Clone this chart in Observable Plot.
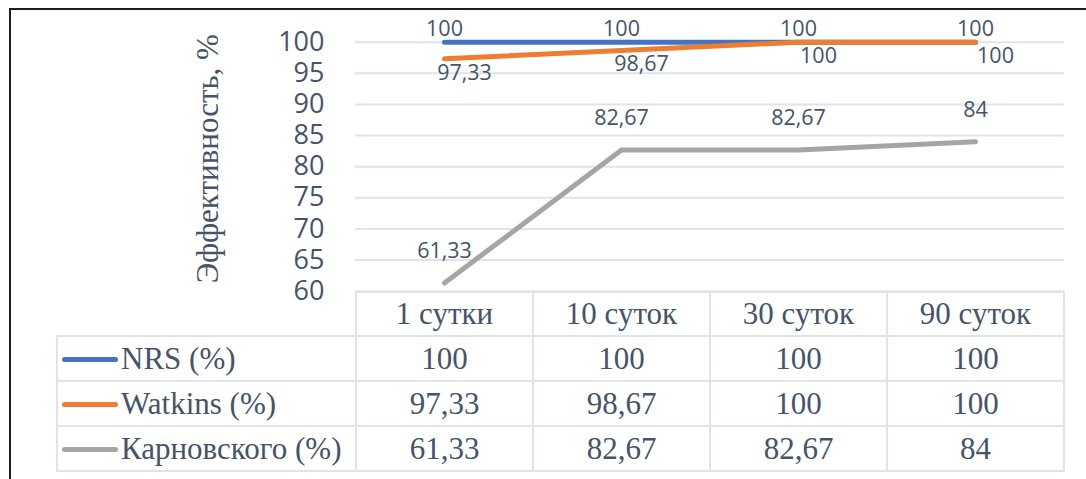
<!DOCTYPE html>
<html>
<head>
<meta charset="utf-8">
<script src="https://cdn.jsdelivr.net/npm/d3@7"></script>
<script src="https://cdn.jsdelivr.net/npm/@observablehq/plot@0.6"></script>
<style>
  html, body { margin: 0; padding: 0; background: #fff; }
  #wrap { position: relative; width: 1086px; height: 479px; overflow: hidden; background: #fff; }
  #frame { position: absolute; left: 9px; top: 8px; width: 1090px; height: 480px;
           border-top: 2px solid #1e1e1e; border-left: 2px solid #1e1e1e; pointer-events: none; }
  #chart { position: absolute; left: 0; top: 0; }
  table.dt { position: absolute; border-collapse: collapse; table-layout: fixed;
             font-family: "Liberation Serif", "Times New Roman", serif; font-size: 31px; color: #44546a; }
  table.dt td { border: 2px solid #dfe3ea; text-align: center; vertical-align: middle; padding: 0; white-space: nowrap; }
  table.dt td.blank { border-top: none; border-left: none; border-bottom: 2px solid #dfe3ea; }
  table.dt td.lab { text-align: left; }
  .sw { display: inline-block; width: 56px; height: 5px; border-radius: 3px; margin-left: 4px; margin-right: 3px; vertical-align: middle; position: relative; top: -2px; }
</style>
</head>
<body>
<div id="wrap">
  <div id="chart"></div>
  <div id="frame"></div>
</div>
<script>
// ---- data ----
const categories = ["1 сутки", "10 суток", "30 суток", "90 суток"];
const seriesNames = ["NRS (%)", "Watkins (%)", "Карновского (%)"];
const nrsValues = [100, 100, 100, 100];
const watkinsValues = [97.33, 98.67, 100, 100];
const karnovskyValues = [61.33, 82.67, 82.67, 84];
const yTicks = [60, 65, 70, 75, 80, 85, 90, 95, 100];
const yTitle = "Эффективность, %";
const seriesColors = ["#4472c4", "#ed7d31", "#a5a5a5"];

const allValues = [nrsValues, watkinsValues, karnovskyValues];
const rows = allValues.flatMap((vals, s) => vals.map((v, i) => ({series: seriesNames[s], cat: categories[i], value: v, si: s})));
const fmt = v => String(v).replace(".", ",");

const W = 1086, H = 479;
const mL = 355, mR = 22, mT = 41.7, mB = 188.3;
const textColor = "#44546a";

const labelStyle = [
  {dx: 0, dy: -13},
  {dx: 20, dy: 14},
  {dx: 0, dy: -32}
];

const chart = Plot.plot({
  width: W, height: H,
  marginLeft: mL, marginRight: mR, marginTop: mT, marginBottom: mB,
  style: {background: "transparent", fontFamily: "'Open Sans', sans-serif", overflow: "visible"},
  x: {type: "point", domain: categories, padding: 0.5, axis: null},
  y: {domain: [60, 100], axis: null},
  color: {domain: seriesNames, range: seriesColors},
  marks: [
    Plot.ruleY(yTicks, {stroke: "#dfe3ea", strokeWidth: 2}),
    Plot.text(yTicks, {y: d => d, text: d => String(d), frameAnchor: "left", textAnchor: "end", dx: -31, fontSize: 27, fill: textColor}),
    Plot.text([yTitle], {frameAnchor: "left", textAnchor: "middle", rotate: -90, dx: -147, dy: -8, fontSize: 31, fill: textColor,
      fontFamily: "Liberation Serif"}),
    ...seriesNames.map((name, s) => Plot.line(rows.filter(r => r.si === s), {
      x: "cat", y: "value", stroke: seriesColors[s], strokeWidth: 5, strokeLinecap: "round", strokeLinejoin: "round"
    })),
    ...seriesNames.map((name, s) => Plot.text(rows.filter(r => r.si === s), {
      x: "cat", y: "value", text: d => fmt(d.value), fontSize: 21.5, fill: textColor,
      dx: labelStyle[s].dx, dy: labelStyle[s].dy
    }))
  ]
});
document.getElementById("chart").appendChild(chart);

// ---- data table below the plot ----
const xs = chart.scale("x");
const step = xs.step !== undefined ? xs.step : (1064 - 355) / 4;
const tableLeft = 56, tableTop = 291;
const labelColW = 355 - tableLeft;

const table = d3.select("#wrap").insert("table", "#frame").attr("class", "dt")
  .style("left", tableLeft + "px").style("top", tableTop + "px")
  .style("width", (labelColW + step * categories.length) + "px");
const cg = table.append("colgroup");
cg.append("col").style("width", labelColW + "px");
categories.forEach(() => cg.append("col").style("width", step + "px"));

const head = table.append("tr").style("height", "44px");
head.append("td").attr("class", "blank");
categories.forEach(c => head.append("td").text(c));

seriesNames.forEach((name, s) => {
  const tr = table.append("tr").style("height", "45px");
  const td = tr.append("td").attr("class", "lab");
  td.append("span").attr("class", "sw").style("background", seriesColors[s]);
  td.append("span").text(name);
  allValues[s].forEach(v => tr.append("td").text(fmt(v)));
});
</script>
</body>
</html>
